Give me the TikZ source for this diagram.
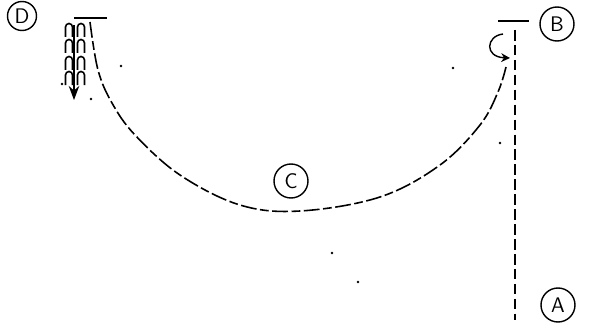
\documentclass[tikz,border=0pt]{standalone}
\usepackage{tikz}
\usetikzlibrary{arrows.meta, calc, positioning}
\tikzset{
  letterdisc/.style={draw, circle, thick, inner sep=0pt, minimum size=0.68cm, font=\sffamily\large},
  plate/.style={line width=0.9pt},
  swing/.style={line width=0.9pt, dash pattern=on 9pt off 2pt on 5pt off 2pt},
  plumb/.style={line width=1pt, dash pattern=on 6pt off 2.5pt},
  speck/.style={fill, circle, inner sep=0pt, minimum size=1.5pt}
}
\begin{document}
\begin{tikzpicture}[x=0.02cm,y=-0.02cm]
\useasboundingbox (0,0) rectangle (593,328);

% Letters
\node[letterdisc, minimum size=0.58cm] (labelD) at (22,16) {D};
\node[letterdisc] (labelB) at (557,24) {B};
\node[letterdisc] (labelC) at (291,181) {C};
\node[letterdisc] (labelA) at (558,305) {A};

% Top plates
\coordinate (plateDl) at (74,18);
\coordinate (plateDr) at (107,18);
\coordinate (plateBl) at (498,21);
\coordinate (plateBr) at (529,21);
\draw[plate] (plateDl) -- (plateDr);
\draw[plate, line width=0.7pt] (plateBl) -- (plateBr);

% Vertical line
\coordinate (plumbTop) at (515,30);
\coordinate (plumbEnd) at (515,320);
\draw[plumb] (plumbTop) -- (plumbEnd);

% Main curve
\coordinate (swingStart) at (90,22);
\coordinate (swingEnd) at (506,67);
\draw[swing] plot[smooth, tension=0.6] coordinates {(swingStart) (98,70) (112,103) (135,135) (180,175) (240,205) (300,211) (380,197) (440,165) (480,125) (498,92) (swingEnd)};

% Turning arrow
\coordinate (turnStart) at (503,34);
\coordinate (turnEnd) at (510,58);
\draw[line width=0.8pt, -{Stealth[length=5pt,width=5pt]}] (turnStart) .. controls (486,36) and (484,57) .. (turnEnd);

% Ripples
\foreach \row in {23,39,56,71} {
  \foreach \col in {69,81} {
    \draw[line width=0.9pt] (\col-3.5,\row+14) -- (\col-3.5,\row+4) arc (180:360:3.5) -- (\col+3.5,\row+14);
  }
}
\coordinate (fallTop) at (74,25);
\coordinate (fallEnd) at (74,100);
\draw[line width=0.9pt, -{Stealth[length=8pt,width=6pt]}] (fallTop) -- (fallEnd);

% Specks
\foreach \px/\py in {121/66, 62/84, 91/99, 453/68, 500/143, 332/253, 358/282} {
  \node[speck] at (\px,\py) {};
}
\end{tikzpicture}
\end{document}
